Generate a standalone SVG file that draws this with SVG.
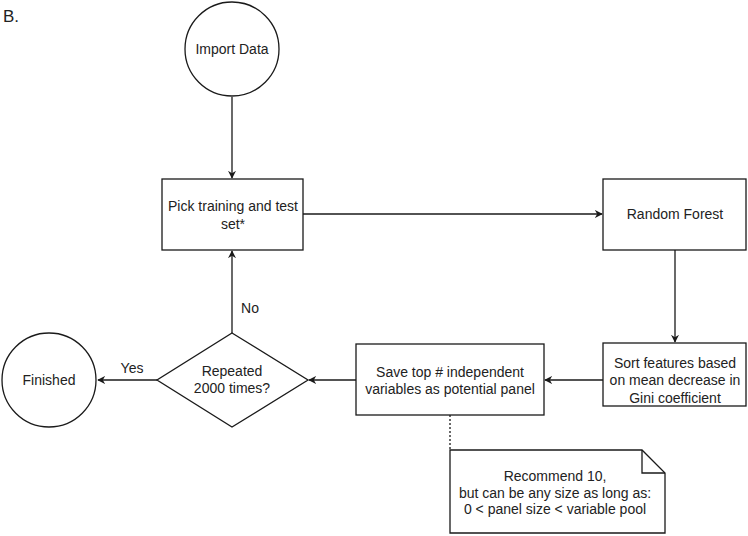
<svg xmlns="http://www.w3.org/2000/svg" width="748" height="536" viewBox="0 0 748 536">
<style>
.s{fill:#fff;stroke:#1a1a1a;stroke-width:1.3}
.t{font-family:"Liberation Sans",Arial,sans-serif;font-size:14px;fill:#222;text-anchor:middle}
.c{fill:none;stroke:#1a1a1a;stroke-width:1.3}
</style>
<defs>
<marker id="a" viewBox="0 0 10 10" refX="9" refY="5" markerWidth="8" markerHeight="8" markerUnits="userSpaceOnUse" orient="auto">
<path d="M0,0 L10,5 L0,10 L3,5 Z" fill="#1a1a1a"/>
</marker>
</defs>
<rect width="748" height="536" fill="#fff"/>
<text x="3" y="22" style="font-family:'Liberation Sans',Arial,sans-serif;font-size:17px;fill:#222">B.</text>
<g id="connectors">
<path class="c" d="M232,97 V178" marker-end="url(#a)"/>
<path class="c" d="M303,214 H602" marker-end="url(#a)"/>
<path class="c" d="M675,250 V342" marker-end="url(#a)"/>
<path class="c" d="M603,380 H545" marker-end="url(#a)"/>
<path class="c" d="M356,380 H309" marker-end="url(#a)"/>
<path class="c" d="M232,333 V251" marker-end="url(#a)"/>
<path class="c" d="M157,380 H98" marker-end="url(#a)"/>
<path class="c" d="M450,415 V450" stroke-dasharray="2,2"/>
<text class="t" x="250" y="313">No</text>
<text class="t" x="132" y="373">Yes</text>
</g>
<g id="import">
<circle class="s" cx="232" cy="49" r="47"/>
<text class="t" x="232" y="54">Import Data</text>
</g>
<g id="pick">
<rect class="s" x="162" y="179" width="141" height="71"/>
<text class="t" x="233" y="211">Pick training and test</text>
<text class="t" x="233" y="229">set*</text>
</g>
<g id="rf">
<rect class="s" x="603" y="179" width="143" height="71"/>
<text class="t" x="675" y="219">Random Forest</text>
</g>
<g id="sort">
<rect class="s" x="603" y="343" width="143" height="63"/>
<text class="t" x="675" y="368">Sort features based</text>
<text class="t" x="675" y="385">on mean decrease in</text>
<text class="t" x="675" y="403">Gini coefficient</text>
</g>
<g id="save">
<rect class="s" x="356" y="344" width="188" height="71"/>
<text class="t" x="450" y="377">Save top # independent</text>
<text class="t" x="450" y="394">variables as potential panel</text>
</g>
<g id="decision">
<path class="s" d="M232,333 L308,380 L232,427 L157,380 Z"/>
<text class="t" x="232" y="376">Repeated</text>
<text class="t" x="232" y="393">2000 times?</text>
</g>
<g id="finished">
<circle class="s" cx="49" cy="380" r="47"/>
<text class="t" x="49" y="385">Finished</text>
</g>
<g id="note">
<path class="s" d="M450,450 H642 L665,473 V533 H450 Z"/>
<path class="c" d="M642,450 V473 H665"/>
<text class="t" x="555" y="481">Recommend 10,</text>
<text class="t" x="555" y="498">but can be any size as long as:</text>
<text class="t" x="555" y="514">0 &lt; panel size &lt; variable pool</text>
</g>
</svg>
